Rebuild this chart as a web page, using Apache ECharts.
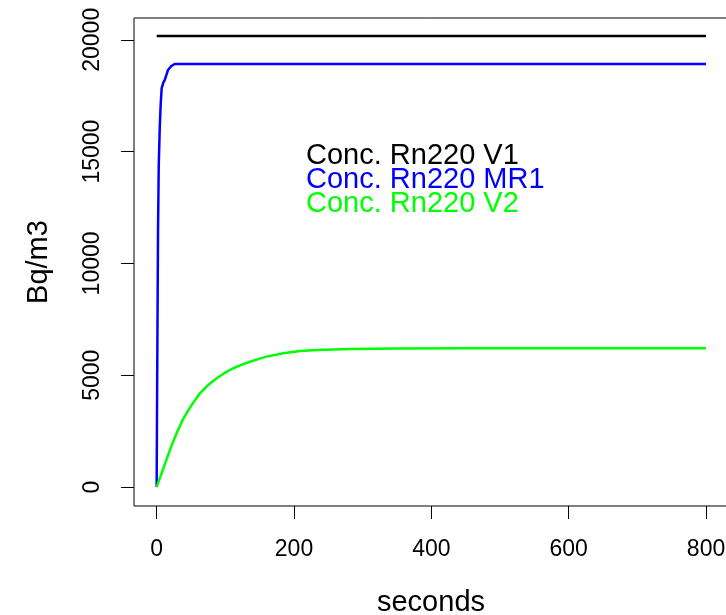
<!DOCTYPE html>
<html>
<head>
<meta charset="utf-8">
<script src="https://cdn.jsdelivr.net/npm/echarts@6/dist/echarts.min.js"></script>
<style>html,body{margin:0;padding:0;background:#fff}#c{width:726px;height:615px}</style>
</head>
<body>
<div id="c"></div>
<script>
// ---- data ----
var seriesNames = ['Conc. Rn220 V1', 'Conc. Rn220 MR1', 'Conc. Rn220 V2'];
var xTicks = [0, 200, 400, 600, 800];
var yTicks = [0, 5000, 10000, 15000, 20000];

var v1Time = [0, 800];
var v1Conc = [20170, 20170];

var mr1Time = [0, 0.6, 2.0, 3.0, 4.4, 5.8, 7.3, 10, 11.7, 16.5, 21.4, 26.2, 800];
var mr1Conc = [0, 3980, 11490, 14310, 15970, 17080, 17840, 18110, 18200, 18650, 18830, 18920, 18920];

var v2Time = [0, 9.4, 19.2, 29, 38.7, 50.9, 63, 75, 87.4, 99, 111.6, 124, 135.8, 148, 160, 184.5, 208.7, 233, 281, 350, 450, 600, 800];
var v2Conc = [0, 800, 1650, 2400, 3050, 3670, 4190, 4560, 4860, 5100, 5310, 5470, 5600, 5720, 5830, 5980, 6080, 6130, 6170, 6190, 6200, 6200, 6200];

function pairs(t, v) { return t.map(function (x, i) { return [x, v[i]]; }); }

var FONT = 'Liberation Sans, Arial, sans-serif';
var colors = ['#000000', '#0000FF', '#00FF00'];

var chart = echarts.init(document.getElementById('c'), null, {renderer: 'canvas'});
chart.setOption({
  animation: false,
  backgroundColor: '#ffffff',
  grid: {left: 134, top: 18, width: 594, height: 488, outerBoundsMode: 'none', containLabel: false, show: true, borderColor: '#000', borderWidth: 1, backgroundColor: 'transparent'},
  legend: {
    orient: 'vertical', left: 301, top: 141, padding: 0, itemGap: -5,
    icon: 'rect', itemWidth: 0, itemHeight: 0, selectedMode: false,
    itemStyle: {opacity: 0}, lineStyle: {opacity: 0},
    textStyle: {fontFamily: FONT, fontSize: 29},
    data: seriesNames.map(function (n, i) { return {name: n, textStyle: {color: colors[i]}}; })
  },
  xAxis: {
    type: 'value', min: -33, max: 832,
    name: 'seconds', nameLocation: 'middle', nameGap: 97,
    nameTextStyle: {fontFamily: FONT, fontSize: 29, color: '#000', verticalAlign: 'middle'},
    axisLine: {show: false, onZero: false},
    axisTick: {show: true, inside: false, length: 13, lineStyle: {color: '#000', width: 1}, customValues: xTicks},
    axisLabel: {show: true, margin: 44, verticalAlign: 'middle', fontFamily: FONT, fontSize: 23, color: '#000', customValues: xTicks, formatter: function (v) { return String(v); }},
    splitLine: {show: false}
  },
  yAxis: {
    type: 'value', min: -850, max: 20975,
    name: 'Bq/m3', nameLocation: 'middle', nameGap: 95,
    nameTextStyle: {fontFamily: FONT, fontSize: 29, color: '#000', verticalAlign: 'middle'},
    axisLine: {show: false, onZero: false},
    axisTick: {show: true, inside: false, length: 13, lineStyle: {color: '#000', width: 1}, customValues: yTicks},
    axisLabel: {show: true, rotate: 90, margin: 41, align: 'center', verticalAlign: 'middle', fontFamily: FONT, fontSize: 23, color: '#000', customValues: yTicks, formatter: function (v) { return String(v); }},
    splitLine: {show: false}
  },
  series: [
    {name: seriesNames[0], type: 'line', showSymbol: false, data: pairs(v1Time, v1Conc), lineStyle: {color: colors[0], width: 2.5}, itemStyle: {color: colors[0]}},
    {name: seriesNames[1], type: 'line', showSymbol: false, data: pairs(mr1Time, mr1Conc), lineStyle: {color: colors[1], width: 2.5}, itemStyle: {color: colors[1]}},
    {name: seriesNames[2], type: 'line', showSymbol: false, data: pairs(v2Time, v2Conc), lineStyle: {color: colors[2], width: 2.5}, itemStyle: {color: colors[2]}}
  ]
});
</script>
</body>
</html>
